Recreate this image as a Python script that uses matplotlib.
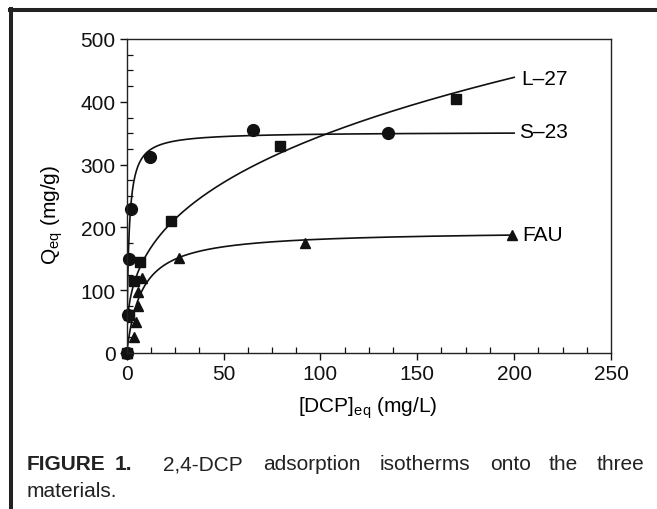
import numpy as np
import matplotlib
matplotlib.use("Agg")
import matplotlib.pyplot as plt
from matplotlib.lines import Line2D
from matplotlib.ticker import MultipleLocator

plt.rcParams['font.family'] = ['Liberation Sans', 'DejaVu Sans']

# ---- data ----
s23_x = [0, 0.5, 1, 2, 12, 65, 135]
s23_y = [0, 60, 150, 230, 312, 355, 350]

l27_x = [0, 1, 4, 7, 23, 79, 170]
l27_y = [0, 60, 115, 145, 210, 330, 405]

fau_x = [0, 4, 5, 6, 6, 8, 27, 92, 199]
fau_y = [0, 25, 50, 75, 97, 120, 152, 175, 188]

# fitted isotherm parameters (estimated from the drawn curves)
S23_QMAX, S23_K = 352.0, 0.94        # Langmuir
L27_KF, L27_N = 70.0, 0.3465         # Freundlich
FAU_QMAX, FAU_K = 195.0, 0.131       # Langmuir
CURVE_XMAX = 200

series_labels = ["L\u201327", "S\u201323", "FAU"]
x_ticks = [0, 50, 100, 150, 200, 250]
y_ticks = [0, 100, 200, 300, 400, 500]

FS = 15
W, H = 657, 510
fig = plt.figure(figsize=(W / 100, H / 100), dpi=100)
ax = fig.add_axes([126.7 / W, 1 - 354 / H, (611 - 126.7) / W, (354 - 40) / H])

xc = np.concatenate([np.linspace(0, 2, 200), np.linspace(2, CURVE_XMAX, 600)])
s23_fit = S23_QMAX * S23_K * xc / (1 + S23_K * xc)
l27_fit = L27_KF * xc ** L27_N
fau_fit = FAU_QMAX * FAU_K * xc / (1 + FAU_K * xc)

lc = '#111111'
ax.plot(xc, s23_fit, color=lc, lw=1.2)
ax.plot(xc, l27_fit, color=lc, lw=1.2)
ax.plot(xc, fau_fit, color=lc, lw=1.2)

ax.plot(s23_x, s23_y, 'o', color=lc, ms=8.5, ls='none', clip_on=False)
ax.plot(l27_x, l27_y, 's', color=lc, ms=7, ls='none', clip_on=False)
ax.plot(fau_x, fau_y, '^', color=lc, ms=7.5, ls='none', clip_on=False)

ax.set_xlim(0, 250)
ax.set_ylim(0, 500)
ax.set_xticks(x_ticks)
ax.set_yticks(y_ticks)
ax.xaxis.set_minor_locator(MultipleLocator(12.5))
ax.yaxis.set_minor_locator(MultipleLocator(25))
ax.tick_params(which='major', direction='out', length=5, width=1, labelsize=FS,
               colors='#111111', pad=3)
ax.tick_params(which='minor', direction='in', length=4, width=0.9, colors='#111111')
for sp in ax.spines.values():
    sp.set_linewidth(1.0)
    sp.set_color('#222222')

# series labels
ax.text(203.5, 437, series_labels[0], fontsize=FS, va='center', ha='left')
ax.text(202.5, 352, series_labels[1], fontsize=FS, va='center', ha='left')
ax.text(204, 188, series_labels[2], fontsize=FS, va='center', ha='left')

# axis labels
fig.text(368 / W, 1 - 408 / H, r'[DCP]$_{\mathregular{eq}}$ (mg/L)', fontsize=FS,
         ha='center', va='center')
fig.text(52 / W, 1 - 215 / H, r'Q$_{\mathregular{eq}}$ (mg/g)', fontsize=FS,
         ha='center', va='center', rotation=90)

# border lines (top and left)
fig.add_artist(Line2D([10 / W, 1.0], [1 - 11.3 / H, 1 - 11.3 / H],
                      transform=fig.transFigure, color='#222222', lw=2.9))
fig.add_artist(Line2D([11.3 / W, 11.3 / W], [0.0, 1 - 9.5 / H],
                      transform=fig.transFigure, color='#222222', lw=2.9))

# caption (justified first line)
cap_y1 = 1 - 470.5 / H
cap_y2 = 1 - 497 / H
fig.text(26.5 / W, cap_y1, 'FIGURE', fontsize=FS, fontweight='bold', va='baseline',
         color='#222222')
fig.text(115 / W, cap_y1, '1.', fontsize=FS, fontweight='bold', va='baseline',
         color='#222222')
words = [('2,4-DCP', 162.7), ('adsorption', 263), ('isotherms', 380),
         ('onto', 490), ('the', 549), ('three', 597)]
for w, xp in words:
    fig.text(xp / W, cap_y1, w, fontsize=FS, va='baseline', color='#222222')
fig.text(26.5 / W, cap_y2, 'materials.', fontsize=FS, va='baseline', color='#222222')

fig.savefig('out.png', dpi=100)
